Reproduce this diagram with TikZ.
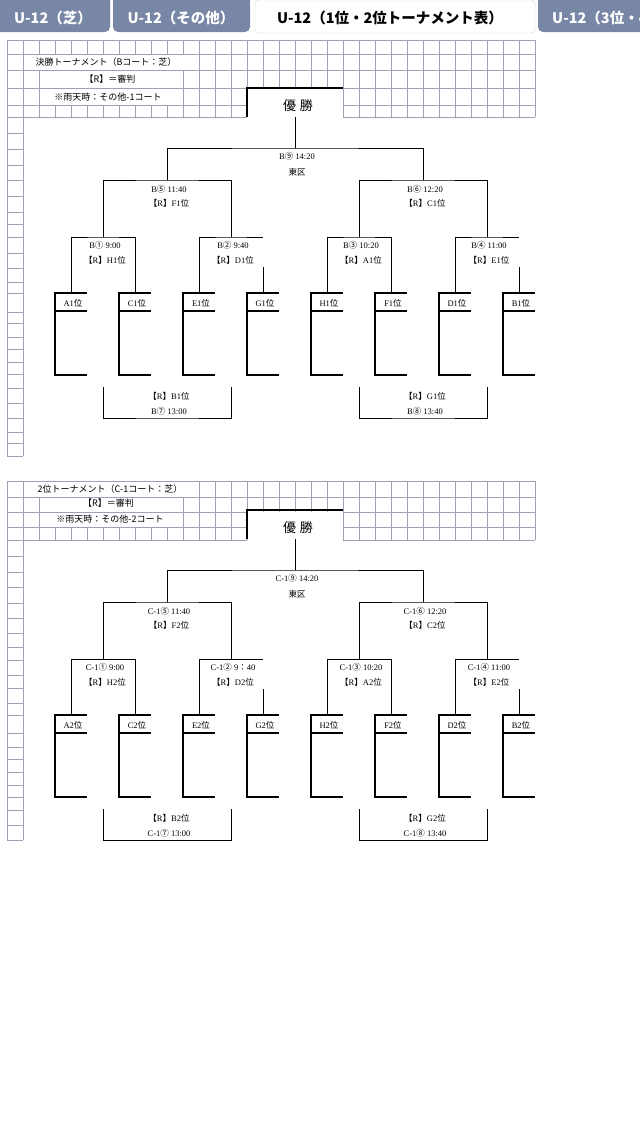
\documentclass[tikz,border=0pt]{standalone}
\usepackage{fontspec}
\setmainfont{Liberation Serif}
\newfontfamily\jp{Noto Sans CJK JP}
\newcommand\ja[1]{{\jp #1}}
\definecolor{tabblue}{RGB}{121,135,166}
\definecolor{gridgray}{RGB}{160,160,178}
\tikzset{
  gridline/.style={gridgray, line width=0.6pt},
  bline/.style={line width=1pt},
  teambox/.style={line width=2.8pt},
  lab/.style={font=\fontsize{8.5}{10}\selectfont, inner sep=0pt, anchor=base},
  head/.style={font=\jp\fontsize{9}{10}\selectfont, inner sep=0pt, anchor=base},
  tabtxt/.style={font=\jp\bfseries\fontsize{14.5}{16}\selectfont, inner sep=0pt, anchor=base},
}
\begin{document}
\begin{tikzpicture}[x=1pt, y=-1pt]
\useasboundingbox (0,0) rectangle (640,1136);
\clip (0,0) rectangle (640,1136);

% tabs
\fill[tabblue, rounded corners=5pt] (-8,-8) rectangle (110,32);
\fill[tabblue, rounded corners=5pt] (113,-8) rectangle (250,32);
\filldraw[fill=white, draw=gray!35, rounded corners=4pt] (255,0) rectangle (535,33);
\fill[tabblue, rounded corners=5pt] (538,-8) rectangle (660,32);
\node[tabtxt, white] (tab1) at (53,23.5) {U-12（芝）};
\node[tabtxt, white] (tab2) at (181,23.5) {U-12（その他）};
\node[tabtxt] (tab3) at (390,23.5) {U-12（1位・2位トーナメント表）};
\node[tabtxt, white, anchor=base west] (tab4) at (552,23.5) {U-12（3位・4位};

% header grid 1
\draw[gridline] (7,40) -- (535,40) (7,54) -- (535,54) (7,70) -- (535,70);
\foreach \y in {88,105,117} \draw[gridline] (7,\y) -- (247,\y) (343,\y) -- (535,\y);
\foreach \k in {0,...,33} \draw[gridline] (7+16*\k,40) -- (7+16*\k,54);
\foreach \k in {0,1,12,13,...,33} \draw[gridline] (7+16*\k,54) -- (7+16*\k,70);
\foreach \k in {0,1,2,11,12,...,33} \draw[gridline] (7+16*\k,70) -- (7+16*\k,88);
\foreach \k in {0,1,2,11,12,...,15} \draw[gridline] (7+16*\k,88) -- (7+16*\k,105);
\foreach \k in {21,...,33} \draw[gridline] (7+16*\k,88) -- (7+16*\k,117);
\foreach \k in {0,...,15} \draw[gridline] (7+16*\k,105) -- (7+16*\k,117);
\draw[gridline] (7,117) -- (7,456) (23,117) -- (23,456);
\foreach \y in {133,149,165,180,196,212,224,237,253,268,282,293,312,323,337,349,362,374,388,403,418,432,443,456}
  \draw[gridline] (7,\y) -- (23,\y);
\node[head] (title1) at (106,65.5) {決勝トーナメント（Bコート：芝）};
\node[head] (ref1) at (110,82.5) {【R】＝審判};
\node[head] (rain1) at (108,100) {※雨天時：その他-1コート};

% header grid 2
\draw[gridline] (7,481) -- (535,481) (7,497) -- (535,497);
\foreach \y in {512,527,540} \draw[gridline] (7,\y) -- (247,\y) (343,\y) -- (535,\y);
\foreach \k in {0,1,12,13,...,33} \draw[gridline] (7+16*\k,481) -- (7+16*\k,497);
\foreach \k in {0,1,2,11,12,...,33} \draw[gridline] (7+16*\k,497) -- (7+16*\k,512);
\foreach \k in {0,1,2,11,12,...,15} \draw[gridline] (7+16*\k,512) -- (7+16*\k,527);
\foreach \k in {21,...,33} \draw[gridline] (7+16*\k,512) -- (7+16*\k,540);
\foreach \k in {0,...,15} \draw[gridline] (7+16*\k,527) -- (7+16*\k,540);
\draw[gridline] (7,540) -- (7,840) (23,540) -- (23,840);
\foreach \y in {556,572,587,603,618,633,647,660,675,688,703,715,733,747,759,772,785,797,810,825,840}
  \draw[gridline] (7,\y) -- (23,\y);
\node[head] (title2) at (110,492) {2位トーナメント（C-1コート：芝）};
\node[head] (ref2) at (108.5,506.5) {【R】＝審判};
\node[head] (rain2) at (110,522.5) {※雨天時：その他-2コート};

% brackets
\foreach \dy/\pre/\rk/\cl in {0/B/1/:,422/C-1/2/\ja{：}} {
\begin{scope}[shift={(0,\dy)}]
  \draw[teambox] (247,117) |- (343,88);
  \node[font=\jp\fontsize{13}{15}\selectfont, inner sep=0pt, anchor=base] (win\rk) at (298,110) {優\hspace{0.3em}勝};
  \foreach \tm/\x in {A/71,C/135,E/199,G/263,H/327,F/391,D/455,B/519} {
    \coordinate (t\tm\rk) at (\x,293);
    \draw[teambox] (\x+16,293) -| (\x-16,375) -- (\x+16,375);
    \draw[teambox] (\x-16,311) -- (\x+16,311);
    \node[lab] (n\tm\rk) at (\x+2,306) {\tm\rk\ja{位}};
  }
  \coordinate (q1\rk) at (103,237);
  \coordinate (q2\rk) at (231,237);
  \coordinate (q3\rk) at (359,237);
  \coordinate (q4\rk) at (487,237);
  \coordinate (s1\rk) at (167,180);
  \coordinate (s2\rk) at (423,180);
  \coordinate (f\rk) at (295,148);
  \coordinate (w\rk) at (295,117);
  \draw[bline] (tA\rk) |- (q1\rk) -| (tC\rk);
  \draw[bline] (tE\rk) |- (q2\rk) -- (q2\rk -| tG\rk);
  \draw[bline] (tG\rk) -- ++(0,-26);
  \draw[bline] (tH\rk) |- (q3\rk) -| (tF\rk);
  \draw[bline] (tD\rk) |- (q4\rk) -- (q4\rk -| tB\rk);
  \draw[bline] (tB\rk) -- ++(0,-26);
  \draw[bline] (q1\rk) |- (s1\rk) -| (q2\rk);
  \draw[bline] (q3\rk) |- (s2\rk) -| (q4\rk);
  \draw[bline] (s1\rk) |- (f\rk) -| (s2\rk);
  \draw[bline] (w\rk) -- (f\rk);
  % lower matches
  \coordinate (m7a\rk) at (103,387);
  \coordinate (m7b\rk) at (231,387);
  \coordinate (m8a\rk) at (359,387);
  \coordinate (m8b\rk) at (487,387);
  \coordinate (m7\rk) at (167,418);
  \coordinate (m8\rk) at (423,418);
  \draw[bline] (m7a\rk) |- (m7\rk) -| (m7b\rk);
  \draw[bline] (m8a\rk) |- (m8\rk) -| (m8b\rk);
  % labels
  \node[lab] (ft\rk) at (297,159.5) {\pre\ja{⑨} 14:20};
  \node[lab] (fr\rk) at (297,175.5) {\ja{東区}};
  \node[lab] (s1t\rk) at (169,192) {\pre\ja{⑤} 11:40};
  \node[lab] (s1r\rk) at (169,206.5) {\ja{【}R\ja{】}F\rk\ja{位}};
  \node[lab] (s2t\rk) at (425,192) {\pre\ja{⑥} 12:20};
  \node[lab] (s2r\rk) at (425,206.5) {\ja{【}R\ja{】}C\rk\ja{位}};
  \node[lab] (q1t\rk) at (105,248) {\pre\ja{①} 9:00};
  \node[lab] (q1r\rk) at (105,263) {\ja{【}R\ja{】}H\rk\ja{位}};
  \node[lab] (q2t\rk) at (233,248) {\pre\ja{②} 9\cl40};
  \node[lab] (q2r\rk) at (233,263) {\ja{【}R\ja{】}D\rk\ja{位}};
  \node[lab] (q3t\rk) at (361,248) {\pre\ja{③} 10:20};
  \node[lab] (q3r\rk) at (361,263) {\ja{【}R\ja{】}A\rk\ja{位}};
  \node[lab] (q4t\rk) at (489,248) {\pre\ja{④} 11:00};
  \node[lab] (q4r\rk) at (489,263) {\ja{【}R\ja{】}E\rk\ja{位}};
  \node[lab] (m7r\rk) at (169,399) {\ja{【}R\ja{】}B\rk\ja{位}};
  \node[lab] (m7t\rk) at (169,414) {\pre\ja{⑦} 13:00};
  \node[lab] (m8r\rk) at (425,399) {\ja{【}R\ja{】}G\rk\ja{位}};
  \node[lab] (m8t\rk) at (425,414) {\pre\ja{⑧} 13:40};
\end{scope}
}
\end{tikzpicture}
\end{document}
